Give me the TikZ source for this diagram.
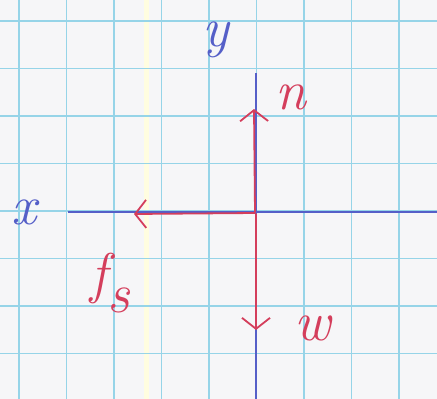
\documentclass[tikz,border=0pt]{standalone}
\usepackage{fontspec}
\usetikzlibrary{arrows.meta}
\definecolor{paper}{RGB}{246,246,248}
\definecolor{gridc}{RGB}{150,212,232}
\definecolor{axisc}{RGB}{85,95,200}
\definecolor{forcec}{RGB}{212,62,92}
\begin{document}
\begin{tikzpicture}[x=1pt,y=-1pt,
  gridline/.style={gridc,line width=1.6pt},
  axisline/.style={axisc,line width=1.8pt},
  force/.style={forcec,line width=1.8pt,line cap=round,-{Straight Barb[length=11pt,width=28pt,line width=1.8pt]}},
  axislabel/.style={axisc,inner sep=0pt,font=\fontsize{56}{64}\selectfont\itshape},
  forcelabel/.style={forcec,inner sep=0pt,font=\fontsize{56}{64}\selectfont\itshape}]
\fill[paper] (0,0) rectangle (437,399);
\useasboundingbox (0,0) rectangle (437,399);
% faint yellow streak of the paper
\fill[yellow!12] (144,0) rectangle (149,399);
% grid
\foreach \k in {0,...,8} {
  \draw[gridline] ({19+47.5*\k},0) -- ({19+47.5*\k},399);
}
\foreach \k in {0,...,8} {
  \draw[gridline] (0,{21+47.5*\k}) -- (437,{21+47.5*\k});
}
% axes
\coordinate (O) at (256,212);
\coordinate (ytop) at (256,73);
\coordinate (ybot) at (256,399);
\coordinate (xleft) at (68,212);
\coordinate (xright) at (437,212);
\draw[axisline] (ytop) -- (ybot);
\draw[axisline] (xleft) -- (xright);
\node[axislabel] (ylab) at (216,40) {y};
\node[axislabel] (xlab) at (24,212) {x};
% forces
\coordinate (On) at (255,212);
\coordinate (Of) at (255,213);
\coordinate (Ow) at (256,214);
\coordinate (ntip) at (254,109);
\coordinate (ftip) at (134,214);
\coordinate (wtip) at (256,330);
\draw[force] (On) -- (ntip);
\draw[force] (Of) -- (ftip);
\draw[force] (Ow) -- (wtip);
\node[forcelabel] (nlab) at (291,97) {n};
\node[forcelabel] (flab) at (110,283) {f\raisebox{-0.35em}{s}};
\node[forcelabel] (wlab) at (313,328) {w};
\end{tikzpicture}
\end{document}
